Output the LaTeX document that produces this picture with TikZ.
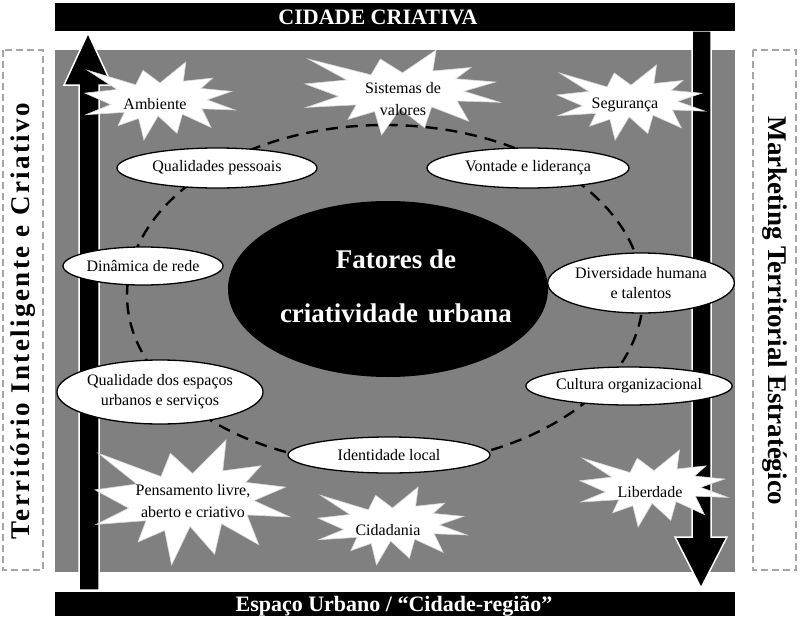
\documentclass[tikz,border=0pt]{standalone}
\usepackage{fontspec}
\setmainfont{Liberation Serif}
\usetikzlibrary{shapes.geometric}
\definecolor{panelgray}{HTML}{808080}
\definecolor{boxgray}{HTML}{A6A6A6}
\newcommand\burstshape[4]{%
  \begin{scope}[shift={(#1,#2)}, xscale=#3/100, yscale=#4/100]
    \draw[burst] (50,26.85) -- (67.23,0) -- (65.53,24.65) -- (85.09,20.63) -- (77.32,33.87)
      -- (97.67,37.67) -- (81.51,48.50) -- (100,61.53) -- (77.95,59.92) -- (84.00,83.77)
      -- (64.91,66.93) -- (61.33,91.38) -- (48.76,69.14) -- (39.28,100) -- (35.72,72.35)
      -- (22.05,81.56) -- (26.24,64.52) -- (0.63,67.53) -- (17.23,54.51) -- (0,39.88)
      -- (21.42,35.26) -- (1.71,10.63) -- (33.85,29.26) -- (38.67,10.63) -- cycle;
  \end{scope}}
\begin{document}
\begin{tikzpicture}[x=1pt,y=-1pt,
  lbl/.style={ellipse, draw=black, line width=1.3pt, fill=white, inner sep=0pt, align=center,
    font=\fontsize{16}{20}\selectfont},
  burst/.style={fill=white, draw=white!85!black, line width=0.6pt, line join=miter},
  bursttext/.style={align=center, inner sep=0pt, font=\fontsize{16}{22}\selectfont},
  bartext/.style={text=white, inner sep=0pt, anchor=base, font=\bfseries\fontsize{22}{26}\selectfont},
  sidebox/.style={draw=boxgray, line width=1.2pt, dash pattern=on 7pt off 4pt},
  sidetext/.style={inner sep=0pt, font=\bfseries\fontsize{27}{30}\selectfont},
  bigarrow/.style={fill=black, draw=white, line width=1.5pt, line join=miter},
  ring/.style={draw=black, line width=2.4pt, dash pattern=on 12pt off 8pt}
]
\useasboundingbox (0,0) rectangle (800,618);
\fill[white] (0,0) rectangle (800,618);
% panel
\fill[panelgray] (55,50) rectangle (735,572);
% arrows
\draw[bigarrow] (79,590) -- (79,85) -- (64,85) -- (88,33) -- (112,85) -- (99,85) -- (99,590) -- cycle;
\draw[bigarrow] (692,31) -- (692,537) -- (675,537) -- (701,588) -- (727,537) -- (711,537) -- (711,31) -- cycle;
% bars
\fill[black] (55,3) rectangle (735,31);
\fill[black] (55,592) rectangle (735,616);
\node[bartext] (title) at (378,24.5) {CIDADE CRIATIVA};
\node[bartext] (base) at (394,611) {Espaço Urbano / “Cidade-região”};
% side boxes
\draw[sidebox] (3,50) rectangle (43,570);
\draw[sidebox] (753,50) rectangle (796,570);
\node[sidetext, rotate=90] (lefttext) at (23,321) {\addfontfeature{LetterSpace=9}Território Inteligente e Criativo};
\node[sidetext, rotate=-90] (righttext) at (775,311) {Marketing Territorial Estratégico};
% dashed ring
\draw[ring] (385,295) ellipse [x radius=258, y radius=170];
% bursts
\burstshape{85}{62}{150}{78}
\burstshape{305}{50}{195}{85}
\burstshape{557}{65}{148}{75}
\burstshape{95}{440}{195}{125}
\burstshape{318}{487}{149}{78}
\burstshape{580}{450}{148}{77}
\node[bursttext] (ambiente) at (155,104) {Ambiente};
\node[bursttext] (sistemas) at (403,99) {Sistemas de\\valores};
\node[bursttext] (seguranca) at (625,105) {Segurança};
\node[bursttext] (pensamento) at (193,501) {Pensamento livre,\\aberto e criativo};
\node[bursttext] (cidadania) at (388,530) {Cidadania};
\node[bursttext] (liberdade) at (650,492) {Liberdade};
% core
\node[ellipse, fill=black, minimum width=320pt, minimum height=176pt, inner sep=0pt] (core) at (388,289) {};
\node[text=white, align=center, inner sep=0pt, font=\bfseries\fontsize{27}{54}\selectfont] (coretext) at (396,286) {Fatores de\\criatividade\hspace{0.12em} urbana};
% labels
\node[lbl, minimum width=200pt, minimum height=40pt] (q1) at (217,168) {Qualidades pessoais};
\node[lbl, minimum width=202pt, minimum height=40pt] (q2) at (528,168) {Vontade e liderança};
\node[lbl, minimum width=160pt, minimum height=38pt] (q3) at (143,266) {Dinâmica de rede};
\node[lbl, minimum width=172pt, minimum height=60pt] (q4) at (641,283) {Diversidade humana\\e talentos};
\node[lbl, minimum width=204pt, minimum height=64pt] (q5) at (160,392) {Qualidade dos espaços\\urbanos e serviços};
\node[lbl, minimum width=202pt, minimum height=38pt] (q6) at (629,386) {Cultura organizacional};
\node[lbl, minimum width=202pt, minimum height=36pt] (q7) at (389,455) {Identidade local};
\end{tikzpicture}
\end{document}
